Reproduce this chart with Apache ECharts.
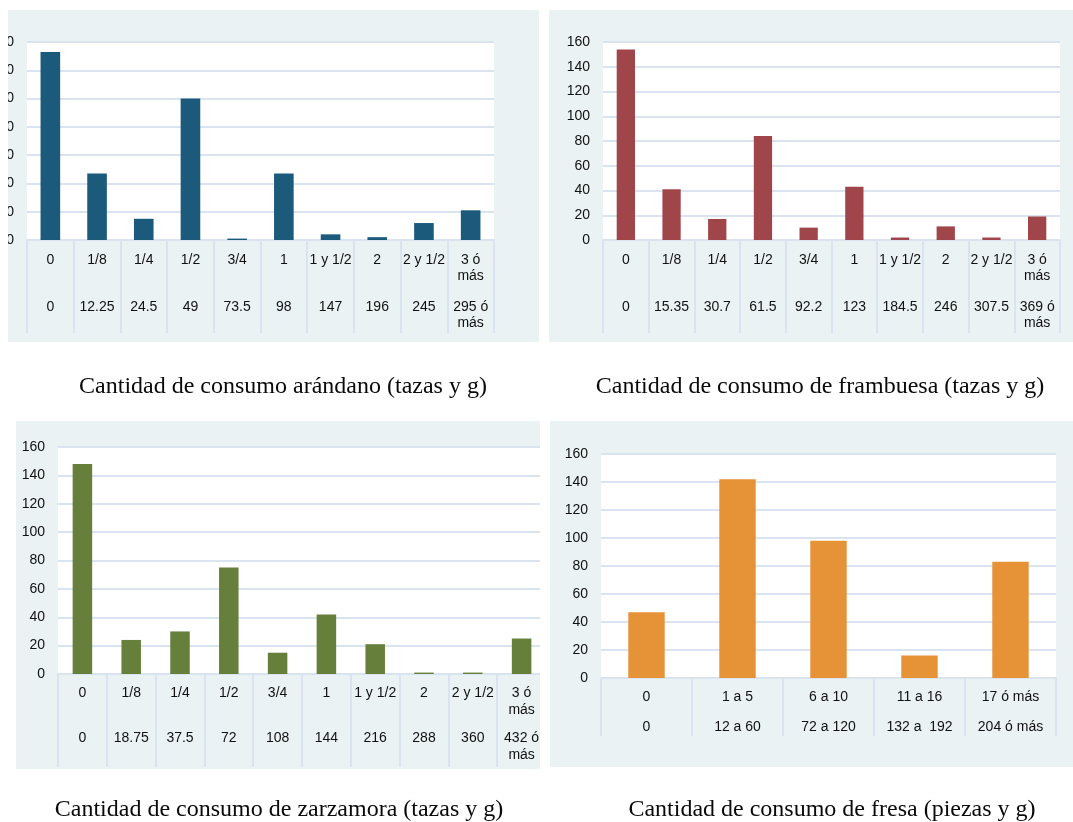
<!DOCTYPE html>
<html>
<head>
<meta charset="utf-8">
<script src="https://cdn.jsdelivr.net/npm/echarts@6/dist/echarts.min.js"></script>
<style>
  html, body { margin: 0; padding: 0; background: #fff; }
  body { width: 1073px; height: 822px; position: relative; overflow: hidden; }
  .panel { position: absolute; }
</style>
</head>
<body>
<div id="arandano" class="panel" style="left:8px;top:10px;width:532px;height:400px"></div>
<div id="frambuesa" class="panel" style="left:549px;top:10px;width:524px;height:400px"></div>
<div id="zarzamora" class="panel" style="left:16px;top:421px;width:524px;height:401px"></div>
<div id="fresa" class="panel" style="left:550px;top:421px;width:523px;height:401px"></div>

<script>
// categories (tazas / piezas) and grams
const arandanoTazas = ['0', '1/8', '1/4', '1/2', '3/4', '1', '1 y 1/2', '2', '2 y 1/2', '3 ó\nmás']
const arandanoGramos = ['0', '12.25', '24.5', '49', '73.5', '98', '147', '196', '245', '295 ó\nmás']
const arandanoValues = [133, 47, 15, 100, 1, 47, 4, 2, 12, 21]

const frambuesaTazas = ['0', '1/8', '1/4', '1/2', '3/4', '1', '1 y 1/2', '2', '2 y 1/2', '3 ó\nmás']
const frambuesaGramos = ['0', '15.35', '30.7', '61.5', '92.2', '123', '184.5', '246', '307.5', '369 ó\nmás']
const frambuesaValues = [154, 41, 17, 84, 10, 43, 2, 11, 2, 19]

const zarzamoraTazas = ['0', '1/8', '1/4', '1/2', '3/4', '1', '1 y 1/2', '2', '2 y 1/2', '3 ó\nmás']
const zarzamoraGramos = ['0', '18.75', '37.5', '72', '108', '144', '216', '288', '360', '432 ó\nmás']
const zarzamoraValues = [148, 24, 30, 75, 15, 42, 21, 1, 1, 25]

const fresaPiezas = ['0', '1 a 5', '6 a 10', '11 a 16', '17 ó más']
const fresaGramos = ['0', '12 a 60', '72 a 120', '132 a  192', '204 ó más']
const fresaValues = [47, 142, 98, 16, 83]

const titles = [
  'Cantidad de consumo arándano (tazas y g)',
  'Cantidad de consumo de frambuesa (tazas y g)',
  'Cantidad de consumo de zarzamora (tazas y g)',
  'Cantidad de consumo de fresa (piezas y g)',
]

const BG = '#eaf2f4'
const LINE = '#dae4f1'
const TEXT = '#111111'
const FONT = '"Liberation Sans", Arial, sans-serif'

function makeChart(id, cfg) {
  const chart = echarts.init(document.getElementById(id))
  const labelStyle = {
    interval: 0,
    fontSize: 14,
    fontFamily: FONT,
    color: TEXT,
    lineHeight: cfg.lineHeight,
    margin: cfg.labelMargin,
  }
  chart.setOption({
    animation: false,
    title: {
      text: cfg.title,
      left: cfg.titleX,
      top: cfg.titleTop,
      textAlign: 'center',
      textStyle: {
        fontFamily: '"Liberation Serif", "Times New Roman", serif',
        fontWeight: 'normal',
        fontSize: 24,
        color: '#0a0a0a',
      },
    },
    graphic: [
      {
        type: 'rect',
        z: -10,
        shape: { x: 0, y: 0, width: cfg.bgWidth, height: cfg.bgHeight },
        style: { fill: BG },
      },
    ],
    grid: {
      left: cfg.grid[0],
      top: cfg.grid[1],
      width: cfg.grid[2],
      height: cfg.grid[3],
      outerBoundsMode: 'none',
      containLabel: false,
      show: true,
      backgroundColor: '#ffffff',
      borderWidth: 0,
    },
    xAxis: [
      {
        type: 'category',
        data: cfg.row1,
        axisLine: { lineStyle: { color: LINE, width: 2 } },
        axisTick: { show: true, length: cfg.tickLength, lineStyle: { color: LINE, width: 2 } },
        axisLabel: labelStyle,
      },
      {
        type: 'category',
        data: cfg.row2,
        position: 'bottom',
        offset: cfg.row2Offset,
        axisLine: { show: false },
        axisTick: { show: false },
        axisLabel: labelStyle,
      },
    ],
    yAxis: {
      type: 'value',
      min: 0,
      max: cfg.max,
      interval: 20,
      axisLine: { show: false },
      axisTick: { show: false },
      axisLabel: { fontSize: 14, fontFamily: FONT, color: TEXT, margin: 13 },
      splitLine: { lineStyle: { color: LINE, width: 2 } },
    },
    series: [
      {
        type: 'bar',
        xAxisIndex: 0,
        data: cfg.values,
        barWidth: cfg.barWidth,
        itemStyle: { color: cfg.color },
      },
    ],
  })
  return chart
}

makeChart('arandano', {
  title: titles[0], titleX: 270, titleTop: 360,
  bgWidth: 531, bgHeight: 332,
  grid: [19, 32, 467, 198],
  row1: arandanoTazas, row2: arandanoGramos, values: arandanoValues,
  max: 140, color: '#1c5a7c', barWidth: '42%',
  tickLength: 93, labelMargin: 12, lineHeight: 16, row2Offset: 47,
})

makeChart('frambuesa', {
  title: titles[1], titleX: 266, titleTop: 360,
  bgWidth: 524, bgHeight: 332,
  grid: [54, 32, 457, 198],
  row1: frambuesaTazas, row2: frambuesaGramos, values: frambuesaValues,
  max: 160, color: '#a0454a', barWidth: '40%',
  tickLength: 93, labelMargin: 12, lineHeight: 16, row2Offset: 47,
})

makeChart('zarzamora', {
  title: titles[2], titleX: 258, titleTop: 372,
  bgWidth: 524, bgHeight: 348,
  grid: [42, 26, 488, 227],
  row1: zarzamoraTazas, row2: zarzamoraGramos, values: zarzamoraValues,
  max: 160, color: '#66803b', barWidth: '40%',
  tickLength: 93, labelMargin: 11, lineHeight: 17, row2Offset: 45,
})

makeChart('fresa', {
  title: titles[3], titleX: 277, titleTop: 372,
  bgWidth: 523, bgHeight: 346,
  grid: [51, 33, 455, 224],
  row1: fresaPiezas, row2: fresaGramos, values: fresaValues,
  max: 160, color: '#e69237', barWidth: '40%',
  tickLength: 58, labelMargin: 11, lineHeight: 16, row2Offset: 30,
})
</script>
</body>
</html>
